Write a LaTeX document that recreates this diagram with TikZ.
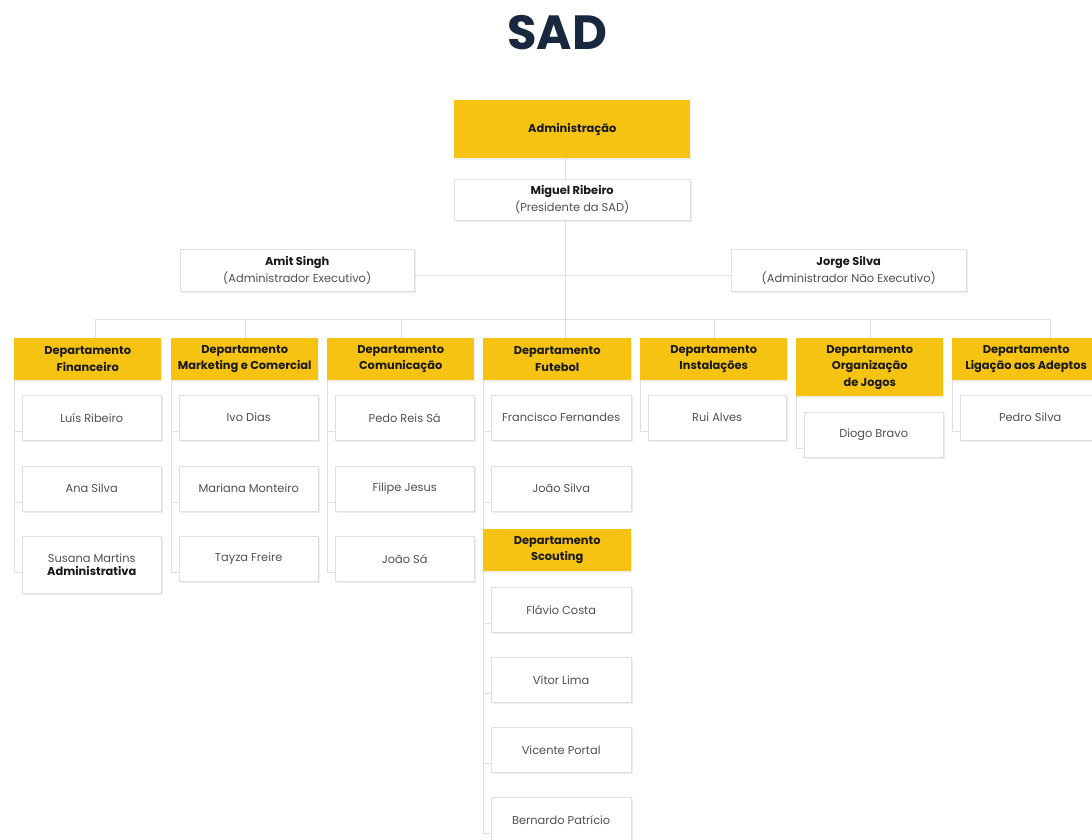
\documentclass[tikz,border=0pt]{standalone}
\usepackage{fontspec}
\setmainfont{Poppins}
\usepackage{tikz}
\usetikzlibrary{shadows,backgrounds}
\definecolor{sadyellow}{HTML}{F6C312}
\definecolor{sadnavy}{HTML}{18293F}
\definecolor{linegrey}{HTML}{DFDFDF}
\definecolor{namegrey}{HTML}{505050}
\tikzset{
    yellow-box/.style = {fill=sadyellow, text=black!90, font=\bfseries\fontsize{11.4}{16.5}\selectfont, rectangle, align=center, anchor=north west, inner sep=0pt, minimum width=147pt, minimum height=42pt, drop shadow={opacity=0.12, shadow xshift=1pt, shadow yshift=-2pt}},
    white-box/.style = {draw=linegrey, fill=white, text=namegrey, font=\fontsize{11.4}{13}\selectfont, rectangle, align=center, anchor=north west, inner sep=0pt, minimum width=139pt, minimum height=45pt, drop shadow={opacity=0.14, shadow xshift=1.5pt, shadow yshift=-2pt}},
    lead-box/.style = {white-box, font=\fontsize{11.4}{17}\selectfont},
    link/.style = {draw=linegrey, line width=0.8pt},
}

\begin{document}
\begin{tikzpicture}[x=1pt, y=-1pt]
\useasboundingbox (0,0) rectangle (1092,839);
\node[font=\bfseries\fontsize{48}{52}\selectfont, text=sadnavy] (title) at (557,33) {SAD};

% top of the chart
\node[yellow-box, minimum width=236pt, minimum height=58pt] (admin) at (454,100) {Administração};
\node[lead-box, minimum width=236pt, minimum height=41pt] (miguel) at (454,179) {\textcolor{black!90}{\bfseries Miguel Ribeiro}\\(Presidente da SAD)};
\node[lead-box, minimum width=234pt, minimum height=42pt] (amit) at (180,249) {\textcolor{black!90}{\bfseries Amit Singh}\\(Administrador Executivo)};
\node[lead-box, minimum width=235pt, minimum height=42pt] (jorge) at (731,249) {\textcolor{black!90}{\bfseries Jorge Silva}\\(Administrador Não Executivo)};

% departments
\node[yellow-box] (fin) at (14,338) {Departamento\\Financeiro};
\node[yellow-box] (mkt) at (171,338) {Departamento\\Marketing e Comercial};
\node[yellow-box] (com) at (327,338) {Departamento\\Comunicação};
\node[yellow-box, minimum width=148pt] (fut) at (483,338) {Departamento\\Futebol};
\node[yellow-box] (inst) at (640,338) {Departamento\\Instalações};
\node[yellow-box, minimum height=58pt] (org) at (796,338) {Departamento\\Organização\\de Jogos};
\node[yellow-box, minimum width=148pt] (lig) at (952,338) {Departamento\\Ligação aos Adeptos};

% people
\node[white-box] (luis) at (22,395) {Luís Ribeiro};
\node[white-box] (ana) at (22,466) {Ana Silva};
\node[white-box, minimum height=57pt] (susana) at (22,536) {Susana Martins\\\textcolor{black!90}{\bfseries Administrativa}};

\node[white-box] (ivo) at (179,395) {Ivo Dias};
\node[white-box] (mariana) at (179,466) {Mariana Monteiro};
\node[white-box] (tayza) at (179,536) {Tayza Freire};

\node[white-box] (pedo) at (335,395) {Pedo Reis Sá};
\node[white-box] (filipe) at (335,466) {Filipe Jesus};
\node[white-box] (joaosa) at (335,536) {João Sá};

\node[white-box, minimum width=140pt] (francisco) at (491,395) {Francisco Fernandes};
\node[white-box, minimum width=140pt] (joaosilva) at (491,466) {João Silva};
\node[yellow-box, minimum width=148pt] (scout) at (483,529) {Departamento\\Scouting};
\node[white-box, minimum width=140pt] (flavio) at (491,587) {Flávio Costa};
\node[white-box, minimum width=140pt] (vitor) at (491,657) {Vítor Lima};
\node[white-box, minimum width=140pt] (vicente) at (491,727) {Vicente Portal};
\node[white-box, minimum width=140pt] (bernardo) at (491,797) {Bernardo Patrício};

\node[white-box, minimum width=138pt] (rui) at (648,395) {Rui Alves};
\node[white-box] (diogo) at (804,412) {Diogo Bravo};
\node[white-box, minimum width=140pt] (pedro) at (960,395) {Pedro Silva};

% connectors
\foreach \p in {luis,ana,susana,ivo,mariana,tayza,pedo,filipe,joaosa,francisco,joaosilva,flavio,vitor,vicente,bernardo,rui,diogo,pedro}
    \coordinate (\p-in) at ([yshift=-36pt]\p.north west);
\coordinate (trunk) at ([xshift=-7pt]miguel.south);
\coordinate (bus-w) at ([shift={(7.5,-19)}]fin.north);
\coordinate (bus-e) at ([shift={(24,-19)}]lig.north);

\begin{scope}[on background layer]
\fill[white] (0,0) rectangle (1092,839);
\draw[link] ([xshift=-7pt]admin.south) -- ([xshift=-7pt]miguel.north);
\draw[link] (trunk) -- (trunk |- bus-w);
\draw[link] ([yshift=-5pt]amit.east) -- ([yshift=-5pt]jorge.west);
\draw[link] (bus-w) -- (bus-e);
\foreach \d/\dx in {fin/7.5, mkt/0.5, com/0.5, fut/8, inst/1, org/0.5, lig/24}
    \draw[link] ([xshift=\dx pt]\d.north) -- ++(0,-19);

\foreach \d/\last/\kids in {fin/susana/{luis,ana,susana}, mkt/tayza/{ivo,mariana,tayza}, com/joaosa/{pedo,filipe,joaosa}, fut/bernardo/{francisco,joaosilva,flavio,vitor,vicente,bernardo}, inst/rui/{rui}, org/diogo/{diogo}, lig/pedro/{pedro}} {
    \draw[link] (\d.south west) -- (\d.south west |- \last-in);
    \foreach \p in \kids
        \draw[link] (\d.south west |- \p-in) -- (\p-in);
}
\end{scope}
\end{tikzpicture}
\end{document}
